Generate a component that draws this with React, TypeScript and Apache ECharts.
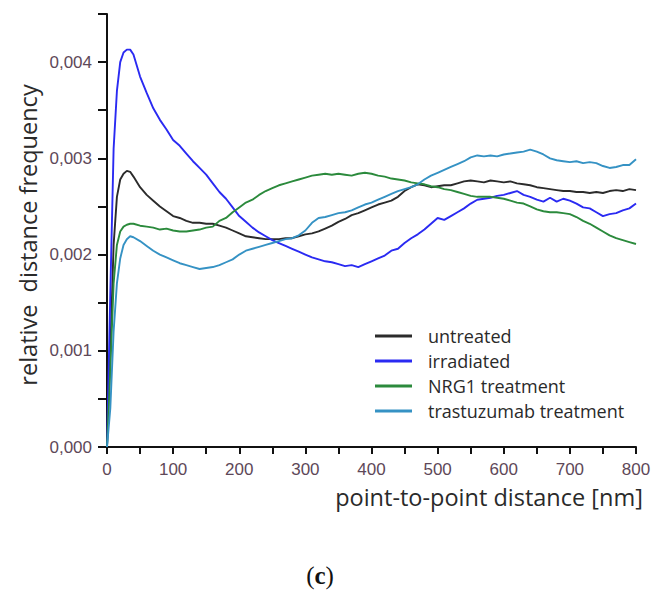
import React, { useEffect, useRef } from "react";
import * as echarts from "echarts";

const distances = [0, 5, 10, 15, 20, 25, 30, 35, 40, 50, 60, 70, 80, 90, 100, 110, 120, 130, 140, 150, 160, 170, 180, 190, 200, 210, 220, 230, 240, 250, 260, 270, 280, 290, 300, 310, 320, 330, 340, 350, 360, 370, 380, 390, 400, 410, 420, 430, 440, 450, 460, 470, 480, 490, 500, 510, 520, 530, 540, 550, 560, 570, 580, 590, 600, 610, 620, 630, 640, 650, 660, 670, 680, 690, 700, 710, 720, 730, 740, 750, 760, 770, 780, 790, 800];

const untreated = [0, 0.0010, 0.0021, 0.0026, 0.00278, 0.00284, 0.00287, 0.00286, 0.00281, 0.00270, 0.00262, 0.00256, 0.00250, 0.00245, 0.00240, 0.00238, 0.00235, 0.00233, 0.00233, 0.00232, 0.00232, 0.00230, 0.00228, 0.00225, 0.00222, 0.00219, 0.00218, 0.00217, 0.00216, 0.00216, 0.00216, 0.00217, 0.00217, 0.00219, 0.00221, 0.00222, 0.00224, 0.00227, 0.00230, 0.00234, 0.00237, 0.00241, 0.00243, 0.00246, 0.00249, 0.00252, 0.00254, 0.00256, 0.00260, 0.00266, 0.00270, 0.00273, 0.00272, 0.00270, 0.00271, 0.00272, 0.00272, 0.00274, 0.00276, 0.00277, 0.00276, 0.00275, 0.00277, 0.00276, 0.00275, 0.00276, 0.00274, 0.00273, 0.00272, 0.00270, 0.00269, 0.00268, 0.00267, 0.00266, 0.00266, 0.00265, 0.00265, 0.00264, 0.00265, 0.00264, 0.00266, 0.00267, 0.00266, 0.00268, 0.00267];

const irradiated = [0, 0.0016, 0.0031, 0.0037, 0.0040, 0.00410, 0.00413, 0.00413, 0.00408, 0.00385, 0.00368, 0.00352, 0.00340, 0.00330, 0.00319, 0.00313, 0.00305, 0.00297, 0.00290, 0.00283, 0.00274, 0.00265, 0.00258, 0.00249, 0.00240, 0.00234, 0.00228, 0.00223, 0.00219, 0.00215, 0.00212, 0.00209, 0.00206, 0.00203, 0.00200, 0.00197, 0.00195, 0.00193, 0.00192, 0.00190, 0.00188, 0.00189, 0.00187, 0.00190, 0.00193, 0.00196, 0.00199, 0.00204, 0.00206, 0.00212, 0.00217, 0.00221, 0.00226, 0.00232, 0.00238, 0.00236, 0.00240, 0.00244, 0.00248, 0.00253, 0.00257, 0.00258, 0.00259, 0.00261, 0.00262, 0.00264, 0.00266, 0.00262, 0.00260, 0.00257, 0.00255, 0.00259, 0.00255, 0.00258, 0.00256, 0.00253, 0.00249, 0.00248, 0.00244, 0.00240, 0.00242, 0.00243, 0.00246, 0.00248, 0.00253];

const nrg1 = [0, 0.0008, 0.0017, 0.0021, 0.00224, 0.00229, 0.00231, 0.00232, 0.00232, 0.00230, 0.00229, 0.00228, 0.00226, 0.00227, 0.00225, 0.00224, 0.00224, 0.00225, 0.00226, 0.00228, 0.00229, 0.00235, 0.00238, 0.00244, 0.00249, 0.00254, 0.00257, 0.00262, 0.00266, 0.00269, 0.00272, 0.00274, 0.00276, 0.00278, 0.00280, 0.00282, 0.00283, 0.00284, 0.00283, 0.00284, 0.00283, 0.00282, 0.00284, 0.00285, 0.00284, 0.00282, 0.00281, 0.00279, 0.00278, 0.00277, 0.00275, 0.00274, 0.00273, 0.00271, 0.00270, 0.00268, 0.00267, 0.00265, 0.00263, 0.00261, 0.00260, 0.00260, 0.00260, 0.00259, 0.00258, 0.00256, 0.00254, 0.00253, 0.00250, 0.00247, 0.00245, 0.00244, 0.00244, 0.00243, 0.00242, 0.00239, 0.00235, 0.00232, 0.00228, 0.00224, 0.00220, 0.00217, 0.00215, 0.00213, 0.00211];

const trastuzumab = [0, 0.0004, 0.0012, 0.0017, 0.00196, 0.00210, 0.00216, 0.00219, 0.00218, 0.00214, 0.00209, 0.00204, 0.00200, 0.00197, 0.00194, 0.00191, 0.00189, 0.00187, 0.00185, 0.00186, 0.00187, 0.00189, 0.00192, 0.00195, 0.00200, 0.00204, 0.00206, 0.00208, 0.00210, 0.00212, 0.00214, 0.00216, 0.00217, 0.00220, 0.00225, 0.00233, 0.00238, 0.00239, 0.00241, 0.00243, 0.00244, 0.00246, 0.00249, 0.00252, 0.00254, 0.00257, 0.00260, 0.00263, 0.00266, 0.00268, 0.00270, 0.00273, 0.00278, 0.00282, 0.00285, 0.00288, 0.00291, 0.00294, 0.00297, 0.00301, 0.00303, 0.00302, 0.00303, 0.00302, 0.00304, 0.00305, 0.00306, 0.00307, 0.00309, 0.00307, 0.00304, 0.00300, 0.00298, 0.00297, 0.00296, 0.00297, 0.00295, 0.00296, 0.00295, 0.00292, 0.00290, 0.00291, 0.00293, 0.00293, 0.00299];

const seriesNames = ["untreated", "irradiated", "NRG1 treatment", "trastuzumab treatment"];
const seriesColors = ["#2b2b2b", "#2a2af2", "#2b8a3c", "#3592c4"];
const seriesValues = [untreated, irradiated, nrg1, trastuzumab];

const yLabelValues = ["0,000", "0,001", "0,002", "0,003", "0,004"];

export default function App() {
  const ref = useRef<HTMLDivElement>(null);
  useEffect(() => {
    if (!ref.current) return;
    const chart = echarts.init(ref.current, undefined, { renderer: "svg" });
    const axisColor = "#111";
    const tickLabelColor = "#5e4858";
    chart.setOption({
      animation: false,
      backgroundColor: "#ffffff",
      grid: { left: 107, right: 25, top: 14, bottom: 144, containLabel: false },
      legend: {
        orient: "vertical",
        left: 370,
        top: 321,
        icon: "rect",
        itemWidth: 37,
        itemHeight: 3,
        itemGap: 5,
        data: seriesNames,
        textStyle: {
          fontFamily: "Open Sans",
          fontSize: 18,
          color: "#2a2a2a",
          lineHeight: 20,
          padding: [0, 0, 0, 11],
        },
      },
      xAxis: {
        type: "value",
        min: 0,
        max: 800,
        interval: 50,
        axisLine: { lineStyle: { color: axisColor, width: 2 } },
        axisTick: { length: 7, lineStyle: { color: axisColor, width: 2 } },
        splitLine: { show: false },
        axisLabel: {
          margin: 14,
          fontFamily: "Liberation Sans",
          fontSize: 17,
          color: tickLabelColor,
          formatter: (v: number) => (v % 100 === 0 ? String(v) : ""),
        },
      },
      yAxis: {
        type: "value",
        min: 0,
        max: 0.0045,
        interval: 0.0005,
        axisLine: { show: true, lineStyle: { color: axisColor, width: 2 } },
        axisTick: { show: true, length: 9, lineStyle: { color: axisColor, width: 2 } },
        splitLine: { show: false },
        axisLabel: {
          margin: 15,
          fontFamily: "Liberation Sans",
          fontSize: 17,
          color: tickLabelColor,
          formatter: (v: number) => {
            const k = Math.round(v * 10000);
            if (k % 10 !== 0) return "";
            return yLabelValues[k / 10] ?? "";
          },
        },
      },
      series: seriesNames.map((name, i) => ({
        name,
        type: "line",
        showSymbol: false,
        symbol: "none",
        smooth: false,
        color: seriesColors[i],
        lineStyle: { color: seriesColors[i], width: 1.9 },
        data: distances.map((d, j) => [d, seriesValues[i][j]]),
        z: 2 + i,
      })),
      graphic: [
        {
          type: "text",
          x: 28,
          y: 235,
          rotation: Math.PI / 2,
          style: {
            text: "relative  distance frequency",
            fontFamily: "Open Sans",
            fontSize: 23.5,
            fill: "#2a2a2a",
            align: "center",
            verticalAlign: "middle",
          },
        },
        {
          type: "text",
          x: 489,
          y: 497,
          style: {
            text: "point-to-point distance [nm]",
            fontFamily: "Open Sans",
            fontSize: 23.5,
            fill: "#2a2a2a",
            align: "center",
            verticalAlign: "middle",
          },
        },
        {
          type: "text",
          x: 320,
          y: 575,
          style: {
            text: "{n|(}{b|c}{n|)}",
            align: "center",
            verticalAlign: "middle",
            rich: {
              n: { fontFamily: "Liberation Serif", fontSize: 25, fill: "#111" },
              b: { fontFamily: "Liberation Serif", fontSize: 25, fontWeight: "bold", fill: "#111" },
            },
          },
        },
      ],
    });
    return () => chart.dispose();
  }, []);
  return (
    <div
      ref={ref}
      style={{ position: "absolute", left: 0, top: 0, width: 661, height: 591, background: "#fff" }}
    />
  );
}
